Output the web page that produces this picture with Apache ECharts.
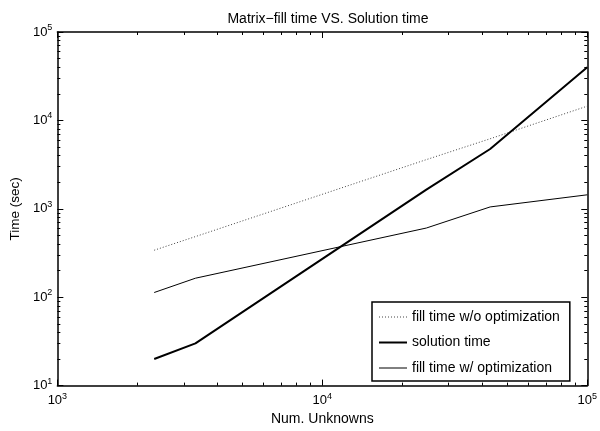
<!DOCTYPE html>
<html>
<head>
<meta charset="utf-8">
<script src="https://cdn.jsdelivr.net/npm/echarts@6/dist/echarts.min.js"></script>
<style>
html, body { margin: 0; padding: 0; background: #fff; }
#chart { width: 600px; height: 431px; }
</style>
</head>
<body>
<div id="chart"></div>
<script>
// values (log-log)
var unknowns = [2320, 3320, 24700, 43000, 100000];
var fillNoOpt = [340, 485, 3600, 6200, 14500];
var solutionTime = [20, 30, 1650, 4750, 40000];
var fillOpt = [113, 164, 606, 1050, 1440];

var xMajor = [1000, 10000, 100000];
var xMinor = [2000, 3000, 4000, 5000, 6000, 7000, 8000, 9000,
  20000, 30000, 40000, 50000, 60000, 70000, 80000, 90000];
var yMajor = [10, 100, 1000, 10000, 100000];
var yMinor = [20, 30, 40, 50, 60, 70, 80, 90,
  200, 300, 400, 500, 600, 700, 800, 900,
  2000, 3000, 4000, 5000, 6000, 7000, 8000, 9000,
  20000, 30000, 40000, 50000, 60000, 70000, 80000, 90000];

var font = "'Liberation Sans', Arial, sans-serif";

function pow10Label(v) {
  return '{n|10}{s|' + Math.round(Math.log10(v)) + '}';
}
var richSup = {
  n: { fontSize: 13, fontFamily: font, color: '#000' },
  s: { fontSize: 9, fontFamily: font, color: '#000', padding: [0, 0, 9, 0] }
};

// tick-only axes (top/right box + minor ticks)
function tickAxis(pos, min, max, ticks, len, showLine) {
  return {
    type: 'log', logBase: 10, position: pos, min: min, max: max,
    axisLine: { show: showLine, lineStyle: { color: '#000', width: 1.5 } },
    axisTick: { show: true, inside: true, length: len, customValues: ticks,
      lineStyle: { color: '#000', width: 1 } },
    axisLabel: { show: false },
    splitLine: { show: false }
  };
}

var myChart = echarts.init(document.getElementById('chart'));
var option = {
  backgroundColor: '#fff',
  animation: false,
  title: {
    text: 'Matrix\u2212fill time VS. Solution time',
    left: 323, top: 7, textAlign: 'center',
    textStyle: { fontSize: 14, fontWeight: 'normal', color: '#000', fontFamily: font }
  },
  grid: { left: 55.5, right: 9, top: 32, bottom: 37 },
  legend: {
    orient: 'vertical',
    left: 372, top: 302,
    padding: [8, 10, 6, 6],
    itemGap: 11.5,
    itemWidth: 28, itemHeight: 14,
    borderColor: '#000', borderWidth: 1.5,
    backgroundColor: '#fff',
    itemStyle: { opacity: 0 },
    lineStyle: { width: 'inherit' },
    textStyle: { fontSize: 14, color: '#000', fontFamily: font },
    data: ['fill time w/o optimization', 'solution time', 'fill time w/ optimization']
  },
  xAxis: [
    {
      type: 'log', logBase: 10, position: 'bottom', min: 1000, max: 100000,
      name: 'Num. Unknowns', nameLocation: 'middle', nameGap: 25,
      nameTextStyle: { fontSize: 14, color: '#000', fontFamily: font },
      axisLine: { lineStyle: { color: '#000', width: 1.5 } },
      axisTick: { inside: true, length: 6, customValues: xMajor, lineStyle: { color: '#000' } },
      axisLabel: { customValues: xMajor, formatter: pow10Label, rich: richSup, margin: 6 },
      splitLine: { show: false }
    },
    tickAxis('bottom', 1000, 100000, xMinor, 3, false),
    tickAxis('top', 1000, 100000, xMajor, 6, true),
    tickAxis('top', 1000, 100000, xMinor, 3, false)
  ],
  yAxis: [
    {
      type: 'log', logBase: 10, position: 'left', min: 10, max: 100000,
      name: 'Time (sec)', nameLocation: 'middle', nameGap: 30,
      nameTextStyle: { fontSize: 13.5, color: '#000', fontFamily: font },
      axisLine: { lineStyle: { color: '#000', width: 1.5 } },
      axisTick: { inside: true, length: 6, customValues: yMajor, lineStyle: { color: '#000' } },
      axisLabel: { customValues: yMajor, formatter: pow10Label, rich: richSup, margin: 5 },
      splitLine: { show: false }
    },
    tickAxis('left', 10, 100000, yMinor, 3, false),
    tickAxis('right', 10, 100000, yMajor, 6, true),
    tickAxis('right', 10, 100000, yMinor, 3, false)
  ],
  series: [
    {
      name: 'fill time w/o optimization', type: 'line', symbol: 'none',
      data: unknowns.map(function (x, i) { return [x, fillNoOpt[i]]; }),
      lineStyle: { color: '#444', width: 1, type: [1, 2] },
      itemStyle: { color: '#444' }
    },
    {
      name: 'solution time', type: 'line', symbol: 'none',
      data: unknowns.map(function (x, i) { return [x, solutionTime[i]]; }),
      lineStyle: { color: '#000', width: 2 },
      itemStyle: { color: '#000' }
    },
    {
      name: 'fill time w/ optimization', type: 'line', symbol: 'none',
      data: unknowns.map(function (x, i) { return [x, fillOpt[i]]; }),
      lineStyle: { color: '#000', width: 1 },
      itemStyle: { color: '#000' }
    }
  ]
};
myChart.setOption(option);
window.addEventListener('resize', function () {
  myChart.resize();
});
</script>
</body>
</html>
